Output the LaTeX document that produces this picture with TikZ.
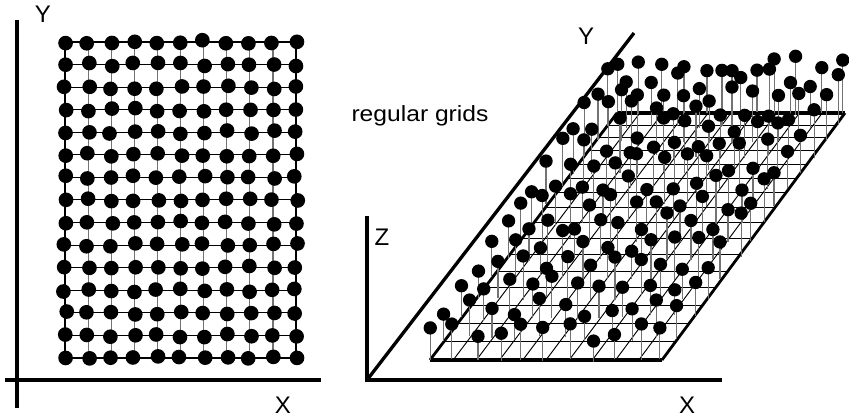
\documentclass[tikz,border=0pt]{standalone}
\usepackage{fontspec}
\setmainfont{Liberation Sans}
\usepackage{graphicx}
\begin{document}
\begin{tikzpicture}[x=0.75pt,y=-0.75pt,
  axis/.style={line width=2.5pt},
  border/.style={line width=2.1pt},
  plateedge/.style={line width=2.6pt},
  plateside/.style={line width=2.1pt},
  gridh/.style={line width=0.75pt,black},
  gridv/.style={line width=0.9pt,black!55},
  pgrid/.style={line width=0.7pt,black},
  stem/.style={line width=0.9pt,black!55},
  lbl/.style={font=\fontsize{18}{20}\selectfont,anchor=base}]
\useasboundingbox (0,0) rectangle (849,417);
\pgfmathsetseed{4242}
% ---------------- left panel ----------------
\coordinate (ly0) at (17,20);
\coordinate (ly1) at (17,408);
\coordinate (lx0) at (5,380);
\coordinate (lx1) at (321,380);
\draw[axis] (ly0) -- (ly1);
\draw[axis] (lx0) -- (lx1);
\node[lbl] (lY) at (43,23) {Y};
\node[lbl] (lX) at (283,413) {X};
\foreach \i in {1,...,9}
  \draw[gridv] ({65+\i*23.1},42) -- ({65+\i*23.1},358);
\foreach \j in {1,...,13}
  \draw[gridh] (65,{42+\j*22.571}) -- (296,{42+\j*22.571});
\draw[border] (65,42) rectangle (296,358);
\foreach \i in {0,...,10}{
  \foreach \j in {0,...,14}{
    \pgfmathsetmacro\jx{rand*1.8}
    \pgfmathsetmacro\jy{rand*1.8}
    \fill ({65+\i*23.1+\jx},{42+\j*22.571+\jy}) circle[radius=5.5pt];
  }
}
% ---------------- right panel ----------------
\coordinate (O) at (367,380);
\coordinate (zt) at (367,216);
\coordinate (xe) at (722,380);
\coordinate (ye) at (634,33);
\draw[axis] (zt) -- (O) -- (xe);
\draw[axis] (O) -- (ye);
\node[lbl] (rZ) at (382,245) {Z};
\node[lbl] (rY) at (586,45) {Y};
\node[lbl] (rX) at (687,413) {X};
\node[font=\fontsize{16.5}{19}\selectfont,anchor=base] (title) at (420,122) {\scalebox{1.12}[1]{regular grids}};
% plate
\coordinate (pA) at (430,360);
\coordinate (pB) at (662,360);
\coordinate (pC) at (845,113);
\coordinate (pD) at (617,113);
\foreach \i in {1,...,9}{
  \pgfmathsetmacro\ua{430+23.2*\i}
  \pgfmathsetmacro\ub{617+22.8*\i}
  \draw[pgrid] (\ua,360) -- (\ub,113);
}
\foreach \k in {1,...,15}{
  \pgfmathsetmacro\vv{\k/16}
  \pgfmathsetmacro\v{1.223*(\vv-0.1825*\vv*\vv)}
  \pgfmathsetmacro\xa{430+187*\v}
  \pgfmathsetmacro\xb{662+183*\v}
  \pgfmathsetmacro\yy{360-247*\v}
  \draw[pgrid] (\xa,\yy) -- (\xb,\yy);
}
\draw[plateside] (pA) -- (pD);
\draw[plateside] (pB) -- (pC);
\draw[plateedge] (pA) -- (pB);
\draw[plateedge] (pD) -- (pC);
% dots with stems, back to front
\foreach \j in {14,...,0}{
  \foreach \i in {0,...,10}{
    \pgfmathsetmacro\u{\i/10+rand*0.012}
    \pgfmathsetmacro\vv{\j/14+rand*0.01}
    \pgfmathsetmacro\v{1.223*(\vv-0.1825*\vv*\vv)}
    \pgfmathsetmacro\px{430+(232-4*\v)*\u+187*\v}
    \pgfmathsetmacro\py{360-247*\v}
    \pgfmathsetmacro\h{30+20*\v+10*rand}
    \draw[stem] (\px,\py) -- (\px,{\py-\h});
    \fill (\px,{\py-\h}) circle[radius=5pt];
  }
}
\end{tikzpicture}
\end{document}
